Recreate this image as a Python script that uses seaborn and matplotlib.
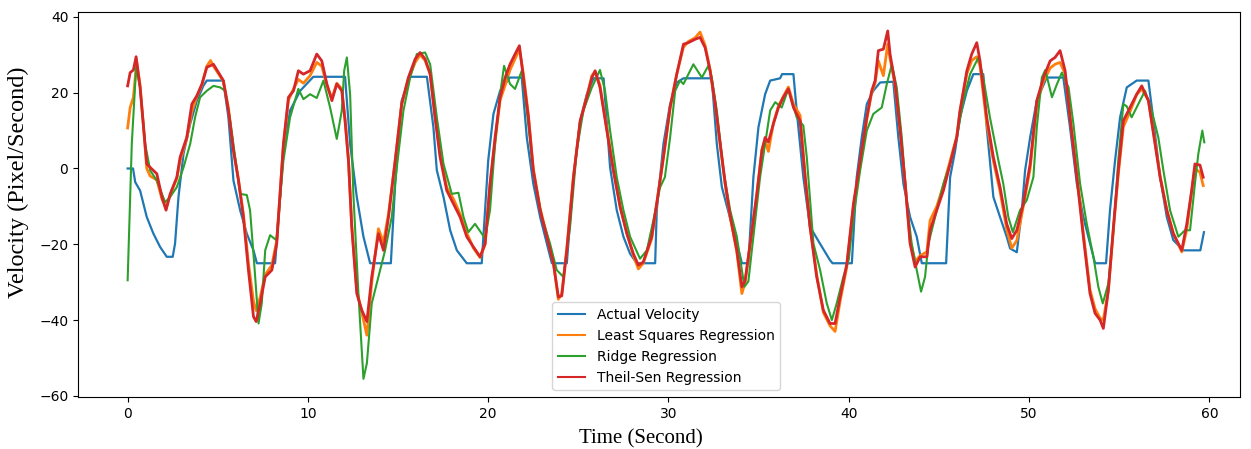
import matplotlib
matplotlib.use("Agg")
import matplotlib.pyplot as plt
import seaborn as sns
import pandas as pd

# ---------------- data ----------------
actual_t = [0, 0.3, 0.42, 0.69, 1.06, 1.43, 1.8, 2.17, 2.5, 2.63, 2.82, 3.1, 3.47, 3.84, 4.2, 4.39,
            5.3, 5.59, 5.87, 6.24, 6.61, 6.98, 7.17, 8.18, 8.64, 9.01, 9.57, 10.3, 12.06, 12.34, 12.71,
            13.08, 13.45, 14.6, 14.84, 15.2, 15.67, 16.6, 16.96, 17.15, 17.52, 17.89, 18.26, 18.81,
            19.64, 20.0, 20.29, 20.66, 21.2, 21.86, 22.14, 22.5, 22.88, 23.25, 23.53, 24.36, 24.73,
            25.1, 25.47, 25.84, 26.4, 26.76, 27.13, 27.5, 27.87, 28.24, 29.26, 29.35, 29.72, 30.09,
            30.46, 30.83, 32.4, 32.68, 32.96, 33.4, 33.8, 34.07, 34.43, 34.71, 34.99, 35.36, 35.64,
            36.19, 36.3, 36.93, 37.11, 37.48, 37.85, 38.4, 38.96, 39.1, 40.17, 40.44, 40.72, 41.0,
            41.36, 41.74, 42.47, 42.75, 43.03, 43.4, 43.77, 44.05, 45.4, 45.62, 45.9, 46.17, 46.55,
            46.91, 47.46, 47.65, 48.02, 48.39, 48.76, 48.95, 49.32, 49.6, 49.78, 50.06, 50.43, 50.98,
            51.9, 52.27, 52.65, 53.01, 53.38, 53.66, 54.27, 54.49, 54.77, 55.05, 55.42, 55.97, 56.62,
            56.9, 57.27, 57.64, 58.0, 58.56, 59.5, 59.7]
actual_v = [0, 0, -3.6, -5.8, -12.8, -17.2, -20.7, -23.3, -23.3, -19.8, -7.5, 3.9, 11.8, 17.9, 21.8, 23.2,
            23.2, 13.5, -3.2, -11, -17.2, -21.6, -25, -25, 3.9, 15.3, 20.5, 24.2, 24.2, 6.5, -7.5,
            -18, -25, -25, -4, 17.9, 24.2, 24.2, 10.9, -0.5, -7.5, -16.3, -21.6, -25,
            -25, 2.1, 14.4, 20.5, 24, 24, 8.2, -4, -12.8, -19.8, -25, -25, -2.3,
            12.6, 19.6, 23.8, 23.8, 0.3, -11, -18, -22.5, -25, -25, -11, 6.5, 17,
            22.7, 23.8, 23.8, 6.5, -4.9, -12.8, -19.8, -25, -25, -2.3, 10.9, 19.6, 23.2,
            23.8, 24.9, 24.9, 15.3, -2.3, -15.4, -19.8, -24.2, -25, -25, -2.3, 8.2, 17,
            20.5, 22.7, 22.9, 8.2, -4, -12.8, -18, -25, -25, -2.3, 4.7, 13.5, 20.5,
            24.9, 24.9, 10.9, -7.5, -12.8, -18, -21.1, -22.1, -11, -0.5, 8.2, 18, 24,
            24, 10.9, -4, -12.8, -19.8, -25, -25, -11, 2.1, 13.5, 21.4, 23.2, 23.2,
            12.6, -2.3, -12.8, -18.9, -21.6, -21.6, -16.8]

lsq_t = [0, 0.14, 0.32, 0.5, 0.69, 0.88, 1.06, 1.25, 1.62, 1.9, 2.13, 2.36, 2.73, 2.91, 3.28, 3.56, 3.84,
         4.12, 4.39, 4.6, 4.76, 5.04, 5.31, 5.59, 5.87, 6.15, 6.42, 6.7, 6.98, 7.13, 7.35, 7.63, 8.0,
         8.27, 8.64, 8.92, 9.2, 9.47, 9.75, 10.12, 10.49, 10.77, 11.05, 11.33, 11.6, 11.88, 12.06,
         12.25, 12.43, 12.71, 12.99, 13.27, 13.54, 13.91, 14.19, 14.47, 14.84, 15.2, 15.57, 15.95,
         16.22, 16.5, 16.78, 17.05, 17.33, 17.7, 18.07, 18.44, 18.81, 19.18, 19.55, 19.83, 20.1,
         20.38, 20.66, 20.94, 21.21, 21.49, 21.73, 21.95, 22.23, 22.5, 22.88, 23.25, 23.62, 23.89,
         24.08, 24.36, 24.73, 25.1, 25.47, 25.75, 25.93, 26.2, 26.58, 26.94, 27.32, 27.69, 28.05,
         28.33, 28.6, 29.07, 29.4, 29.72, 30.09, 30.46, 30.83, 31.1, 31.48, 31.75, 32.03, 32.31,
         32.59, 32.87, 33.15, 33.43, 33.79, 34.07, 34.25, 34.53, 34.9, 35.18, 35.36, 35.54, 35.82,
         36.1, 36.37, 36.65, 36.93, 37.3, 37.58, 37.85, 38.22, 38.59, 38.96, 39.24, 39.52, 39.89,
         40.26, 40.63, 41.0, 41.27, 41.46, 41.64, 41.92, 42.16, 42.29, 42.57, 42.85, 43.13, 43.4,
         43.68, 43.96, 44.33, 44.51, 44.88, 45.25, 45.62, 45.99, 46.17, 46.55, 46.82, 47.1, 47.28,
         47.65, 48.02, 48.39, 48.76, 49.04, 49.32, 49.68, 50.06, 50.43, 50.8, 51.17, 51.44, 51.72,
         52.0, 52.27, 52.65, 53.01, 53.38, 53.66, 53.94, 54.12, 54.4, 54.68, 54.95, 55.23, 55.6,
         55.97, 56.25, 56.62, 56.99, 57.27, 57.64, 58.0, 58.47, 58.75, 59.02, 59.2, 59.48, 59.66]
lsq_v = [10.7, 16.1, 18.8, 28, 22, 11, 0, -2, -3, -8, -10.5, -7, -2.5, 2, 8, 15, 19,
         22, 27, 28.5, 27, 25, 23, 16, 5, -3, -12, -25, -35, -37.5, -34, -28, -25.5,
         -19, 6, 18, 21, 23.5, 22.5, 24.5, 28, 27, 22, 18.5, 22.5, 21, 13,
         2, -15, -32, -38, -44, -30, -15.9, -19.5, -12, 2, 17, 23.5, 28,
         30, 28.5, 25, 14, 4, -5, -8, -12, -17, -21, -23.5, -20, -4.5,
         7, 18, 22, 26, 29, 31.5, 25, 14, 0, -10.5, -17.5, -25, -34.5,
         -33, -21, -2, 12, 19, 24.5, 25.5, 22, 10.5, 0, -10, -17, -23,
         -26.5, -25, -18.5, -7.5, 3, 16, 25, 32, 33.5, 34.5, 36, 32.5, 26,
         17, 6, -4.5, -13, -22, -33, -30, -20, -7, 5, 7.5, 4.5, 12,
         16.5, 19, 21.5, 17, 14, -2, -15, -28, -38, -41.5, -43, -35, -26,
         -10, 1, 13, 20, 22.5, 28.4, 24.5, 32.8, 29, 22, 10, -4, -19,
         -24.5, -23, -22, -13.7, -10, -4.5, 2, 8.5, 15, 25, 28.5, 29.5, 27,
         12, 2, -6, -16, -21, -19, -10, 0, 17, 23, 26.5, 27.5, 28,
         25, 14, -1.5, -17, -32, -37, -39.5, -40, -32, -16, -1.5, 11, 15,
         19.5, 21, 18, 7, -2, -11, -17, -22, -16, -6, 0, -1, -4.5]

ridge_t = [0, 0.23, 0.47, 0.69, 0.97, 1.25, 1.62, 2.08, 2.36, 2.73, 3.1, 3.47, 3.74, 4.02, 4.39, 4.76,
           5.13, 5.41, 5.69, 6.06, 6.24, 6.61, 6.79, 7.02, 7.26, 7.44, 7.63, 7.9, 8.25, 8.64, 9.01,
           9.47, 9.75, 10.12, 10.49, 10.86, 11.23, 11.6, 11.88, 12.01, 12.16, 12.34, 12.52, 12.8,
           13.08, 13.27, 13.54, 13.91, 14.28, 14.65, 14.93, 15.3, 15.67, 16.04, 16.5, 16.78, 17.15,
           17.52, 17.98, 18.35, 18.63, 18.9, 19.27, 19.83, 20.1, 20.38, 20.66, 20.88, 21.21, 21.49,
           21.86, 22.14, 22.5, 22.97, 23.43, 23.8, 24.17, 24.54, 24.91, 25.28, 25.75, 26.2, 26.48,
           26.76, 27.13, 27.5, 27.87, 28.42, 28.8, 29.16, 29.53, 29.8, 30.09, 30.37, 30.64, 30.83,
           31.38, 31.85, 32.21, 32.4, 32.68, 33.05, 33.42, 33.79, 34.21, 34.43, 34.71, 35.08, 35.36,
           35.64, 35.92, 36.28, 36.65, 37.11, 37.48, 37.67, 38.04, 38.41, 38.78, 39.06, 39.33, 39.7,
           40.0, 40.26, 40.63, 41.0, 41.36, 41.83, 42.11, 42.39, 42.66, 42.94, 43.22, 43.49, 43.77,
           44.01, 44.23, 44.42, 44.79, 45.25, 45.62, 45.99, 46.36, 46.73, 47.19, 47.46, 47.83, 48.3,
           48.57, 48.85, 49.1, 49.5, 49.87, 50.24, 50.43, 50.71, 50.9, 51.27, 51.55, 51.82, 52.19,
           52.46, 52.83, 53.2, 53.57, 53.84, 54.09, 54.4, 54.68, 54.95, 55.23, 55.42, 55.69, 56.06,
           56.43, 56.8, 57.17, 57.45, 57.82, 58.28, 58.65, 58.93, 59.2, 59.39, 59.61, 59.72]
ridge_v = [-29.5, 6.5, 26.7, 21.4, 6.5, -0.5, -3.2, -8.9, -7.5, -4.9, 0.3, 6.5, 13.5, 18.8, 20.5, 21.8,
           21.4, 20.5, 12.6, -0.5, -6.7, -7, -11, -25.1, -40.9, -35.6, -21.6, -17.6, -18.9, 2.1, 13.5,
           21, 18.3, 19.6, 18.6, 23.2, 16.1, 7.8, 15.3, 25.8, 29.3, 19.6, -6.7, -33,
           -55.5, -51.4, -35.6, -28.6, -21.6, -12.8, 0.3, 15.3, 24, 30.2, 30.6, 27.5, 13.5,
           1.2, -6.7, -6.4, -12.8, -16.8, -14.6, -18.5, -11, 6.5, 19.6, 27.1, 22.3, 21,
           25.8, 15.3, -0.5, -12.8, -19.8, -26.8, -28.6, -15.4, 4.7, 15.3, 21.4, 26, 20.5,
           10, -2.3, -11, -18, -23.8, -21.6, -13.7, -5, -2.3, 8.2, 20.5, 23.2, 22.3,
           27.5, 24, 27.1, 24, 15.3, -0.5, -11, -18, -31.2, -29.8, -18, -2.3, 6.5,
           15.3, 17.5, 16.1, 21, 13.5, 11.3, 3, -19.8, -26.8, -35.6, -40, -35.6, -28.6,
           -24, -12.8, -0.5, 10, 14.4, 16.1, 22.3, 27.5, 21.4, 8.2, -9.3, -19.8, -26.8,
           -32.5, -28.6, -19.8, -12.8, -4, 1.2, 8.2, 17.9, 24.9, 29.3, 24, 13.5, 2.1,
           -4, -12.8, -16.8, -11, -8.4, -2.3, 10.9, 24, 26, 18.8, 22.3, 25.3, 21.4,
           11.8, -4, -14.6, -23.3, -31.2, -35.6, -30.3, -16.3, 2.1, 17, 16.4, 13.5, 17,
           20.5, 15.3, 8.2, -0.5, -11, -18, -16.3, -16.3, -4, 3.9, 10, 6.9]

theil_t = [0, 0.14, 0.32, 0.47, 0.69, 0.88, 1.06, 1.25, 1.62, 1.9, 2.13, 2.36, 2.73, 2.91, 3.28, 3.56,
           3.84, 4.12, 4.39, 4.76, 5.04, 5.31, 5.59, 5.87, 6.15, 6.42, 6.7, 6.98, 7.13, 7.35, 7.63,
           8.0, 8.27, 8.64, 8.92, 9.2, 9.47, 9.75, 10.12, 10.49, 10.77, 11.05, 11.33, 11.6, 11.88,
           12.06, 12.25, 12.43, 12.71, 12.99, 13.27, 13.54, 13.91, 14.19, 14.47, 14.84, 15.2, 15.57,
           15.95, 16.22, 16.5, 16.78, 17.05, 17.33, 17.7, 18.07, 18.44, 18.81, 19.18, 19.55, 19.83,
           20.1, 20.38, 20.66, 20.94, 21.21, 21.49, 21.73, 21.95, 22.23, 22.5, 22.88, 23.25, 23.62,
           23.89, 24.08, 24.36, 24.73, 25.1, 25.47, 25.75, 25.93, 26.2, 26.58, 26.94, 27.32, 27.69,
           28.05, 28.33, 28.6, 29.07, 29.4, 29.72, 30.09, 30.46, 30.83, 31.1, 31.48, 31.75, 32.03,
           32.31, 32.59, 32.87, 33.15, 33.43, 33.79, 34.07, 34.25, 34.53, 34.9, 35.18, 35.36, 35.54,
           35.82, 36.1, 36.37, 36.65, 36.93, 37.3, 37.58, 37.85, 38.22, 38.59, 38.96, 39.24, 39.52,
           39.89, 40.26, 40.63, 41.0, 41.27, 41.46, 41.64, 41.92, 42.16, 42.29, 42.57, 42.85, 43.13,
           43.4, 43.68, 43.96, 44.33, 44.51, 44.88, 45.25, 45.62, 45.99, 46.17, 46.55, 46.82, 47.1,
           47.28, 47.65, 48.02, 48.39, 48.76, 49.04, 49.32, 49.68, 50.06, 50.43, 50.8, 51.17, 51.44,
           51.72, 52.0, 52.27, 52.65, 53.01, 53.38, 53.66, 53.94, 54.12, 54.4, 54.68, 54.95, 55.23,
           55.6, 55.97, 56.25, 56.62, 56.99, 57.27, 57.64, 58.0, 58.47, 58.75, 59.02, 59.2, 59.48,
           59.66]
theil_v = [21.8, 25.3, 26, 29.5, 21.4, 10.9, 1.2, 0.3, -1.4, -7.5, -11, -6.7, -2.3, 3, 8.2, 17,
           19.2, 22.3, 26.7, 27.5, 25.3, 23.2, 15.3, 4.7, -3.2, -12.8, -26.8, -39.1, -40.4, -35.6, -28.6,
           -26.8, -19.8, 6.5, 18.8, 20.5, 25.8, 24.9, 25.8, 30.2, 28.4, 22.3, 17.9, 22.3, 20.5,
           12.6, 2.1, -15.4, -33, -37.4, -40.4, -28.6, -17.2, -21.6, -12.8, 2.1, 17, 24,
           28.9, 30.6, 28.9, 24.9, 13.5, 3, -5.8, -9.3, -12.8, -18, -20.7, -23.3, -19.8,
           -4, 8.2, 18.8, 24, 27.5, 30.2, 32.4, 24, 13.5, -0.5, -11, -18, -25.1,
           -33.9, -33.6, -21.6, -2.3, 12.6, 18.8, 24, 25.8, 21.4, 10, -0.5, -10.2, -17.2,
           -22.5, -25.5, -24.7, -18, -7.5, 3, 16.1, 24.9, 32.8, 33.2, 34.1, 34.6, 31.9,
           25.8, 17, 6.5, -4, -12.8, -21.6, -31.2, -29.6, -19.8, -6.7, 4.7, 8.2, 7,
           11.8, 16.1, 18.8, 21, 16.1, 12.6, -2.3, -15.4, -28.6, -37.4, -40.9, -40.9, -33.9,
           -25.2, -9.3, 2.1, 13.5, 20.5, 23.2, 31.1, 31.5, 36.3, 30.2, 22.3, 10, -4,
           -19.8, -26, -23.3, -23.3, -16.3, -11, -5.8, 1.2, 8.2, 15.3, 25.8, 30.2, 33.2,
           28.4, 13.5, 3, -4.9, -14.6, -18.5, -16.3, -9.3, 1.2, 17.9, 24, 28.4, 29.3,
           31.1, 25.8, 13.5, -2.3, -18, -33, -38.2, -40, -42.2, -32.1, -15.4, -0.5, 12.6,
           16.1, 19.6, 21.8, 17.9, 6.5, -2.3, -11, -17.2, -21.6, -14.6, -5.8, 1.2, 0.9,
           -2.3]

series_names = ["Actual Velocity", "Least Squares Regression", "Ridge Regression", "Theil-Sen Regression"]
series_t = [actual_t, lsq_t, ridge_t, theil_t]
series_v = [actual_v, lsq_v, ridge_v, theil_v]
colors = ["#1f77b4", "#ff7f0e", "#2ca02c", "#d62728"]
widths = [1.6, 2.0, 1.5, 2.0]

x_ticks = [0, 10, 20, 30, 40, 50, 60]
y_ticks = [-60, -40, -20, 0, 20, 40]

# ---------------- figure ----------------
fig = plt.figure(figsize=(12.51, 4.49), dpi=100)
ax = fig.add_axes([0.0624, 0.1158, 0.9288, 0.8575])

for name, t, v, c, w in zip(series_names, series_t, series_v, colors, widths):
    df = pd.DataFrame({"t": t, "v": v})
    sns.lineplot(data=df, x="t", y="v", ax=ax, color=c, linewidth=w,
                 sort=False, estimator=None, label=name)

ax.set_xlim(-2.75, 61.7)
ax.set_ylim(-60.3, 41.3)
ax.set_xticks(x_ticks)
ax.set_yticks(y_ticks)
ax.tick_params(labelsize=10)
ax.set_xlabel("Time (Second)", fontsize=15, family="Liberation Serif")
ax.set_ylabel("Velocity (Pixel/Second)", fontsize=17.5, family="Liberation Serif")
ax.xaxis.set_label_coords(0.4845, -0.085)
ax.yaxis.set_label_coords(-0.042, 0.558)

leg = ax.legend(loc="lower center", bbox_to_anchor=(0.506, 0.0), fontsize=10, frameon=True)
for line in leg.get_lines():
    line.set_linewidth(1.5)

fig.savefig("out.png", dpi=100)
